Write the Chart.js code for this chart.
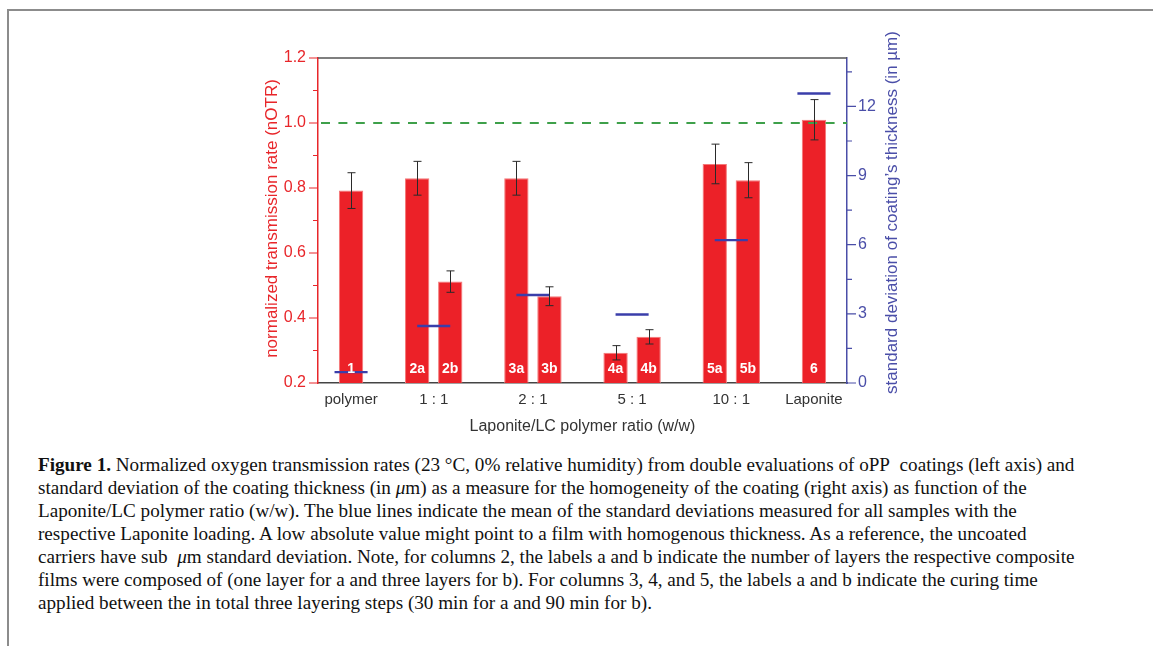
<!DOCTYPE html>
<html>
<head>
<meta charset="utf-8">
<script src="https://cdn.jsdelivr.net/npm/chart.js@4.4.0/dist/chart.umd.min.js"></script>
<style>
  html, body { margin: 0; padding: 0; background: #fff; }
  body { width: 1153px; height: 646px; position: relative; overflow: hidden; }
  #frame { position: absolute; left: 7px; top: 9px; width: 1160px; height: 660px; border-left: 2px solid #8c8c8c; border-top: 2px solid #8c8c8c; }
  #chartBox { position: absolute; left: 0; top: 0; width: 1153px; height: 450px; }
  #caption { position: absolute; left: 38px; top: 453px; font-family: 'Liberation Serif', serif; font-size: 17px; line-height: 23px; color: #111; white-space: nowrap; }
  #caption div { height: 23px; }
</style>
</head>
<body>
<div id="frame"></div>
<div id="chartBox"><canvas id="oxChart"></canvas></div>
<div id="caption">
  <div><span id="capLine1"><b>Figure 1.</b> Normalized oxygen transmission rates (23 °C, 0% relative humidity) from double evaluations of oPP&nbsp; coatings (left axis) and</span></div>
  <div>standard deviation of the coating thickness (in <i>μ</i>m) as a measure for the homogeneity of the coating (right axis) as function of the</div>
  <div>Laponite/LC polymer ratio (w/w). The blue lines indicate the mean of the standard deviations measured for all samples with the</div>
  <div>respective Laponite loading. A low absolute value might point to a film with homogenous thickness. As a reference, the uncoated</div>
  <div>carriers have sub&nbsp; <i>μ</i>m standard deviation. Note, for columns 2, the labels a and b indicate the number of layers the respective composite</div>
  <div>films were composed of (one layer for a and three layers for b). For columns 3, 4, and 5, the labels a and b indicate the curing time</div>
  <div>applied between the in total three layering steps (30&nbsp;min for a and 90&nbsp;min for b).</div>
</div>
<script>
// group labels on the x axis and where they sit (in bar slots)
const groupLabels = ['polymer', '1 : 1', '2 : 1', '5 : 1', '10 : 1', 'Laponite'];
const groupPos = [0, 2.5, 5.5, 8.5, 11.5, 14];

// single bars
const barLabels = ['1', '2a', '2b', '3a', '3b', '4a', '4b', '5a', '5b', '6'];
const barPos = [0, 2, 3, 5, 6, 8, 9, 11, 12, 14];
const nOTR = [0.792, 0.830, 0.512, 0.830, 0.467, 0.293, 0.342, 0.874, 0.824, 1.010];
const nOTRErr = [0.055, 0.052, 0.033, 0.052, 0.029, 0.022, 0.022, 0.061, 0.054, 0.062];

// mean standard deviation of thickness per group (right axis, µm)
const sdThickness = [0.47, 2.47, 3.82, 2.97, 6.2, 12.56];
const sdFrom = [-0.5, 2, 5, 8, 11, 13.5];
const sdTo = [0.5, 3, 6, 9, 12, 14.5];

const referenceLevel = 1.0;
const leftTicks = [0.2, 0.4, 0.6, 0.8, 1.0, 1.2];
const leftMinor = [0.3, 0.5, 0.7, 0.9, 1.1];
const rightTicks = [0, 3, 6, 9, 12];
const rightMinor = [1.5, 4.5, 7.5, 10.5, 13.5];

const RED = '#e8262a';
const BLUE = '#4a4ea8';
const LINE_BLUE = '#3a3eaa';

Chart.defaults.font.family = "'Liberation Sans', Arial, sans-serif";

const extras = {
  id: 'extras',
  afterDatasetsDraw(chart) {
    const { ctx, scales } = chart;
    const x = scales.x, y = scales.y;
    ctx.save();
    // error bars
    ctx.strokeStyle = '#2a2a2a';
    ctx.lineWidth = 1;
    barPos.forEach((p, i) => {
      const px = Math.round(x.getPixelForValue(p)) + 0.5;
      const top = y.getPixelForValue(nOTR[i] + nOTRErr[i]);
      const bot = y.getPixelForValue(nOTR[i] - nOTRErr[i]);
      ctx.beginPath();
      ctx.moveTo(px, top); ctx.lineTo(px, bot);
      ctx.moveTo(px - 4, top); ctx.lineTo(px + 4, top);
      ctx.moveTo(px - 4, bot); ctx.lineTo(px + 4, bot);
      ctx.stroke();
    });
    // bar labels
    ctx.fillStyle = '#fff';
    ctx.font = "bold 14px 'Liberation Sans', Arial, sans-serif";
    ctx.textAlign = 'center';
    ctx.textBaseline = 'middle';
    barPos.forEach((p, i) => {
      ctx.fillText(barLabels[i], x.getPixelForValue(p), chart.chartArea.bottom - 14);
    });
    ctx.restore();
  },
  afterDraw(chart) {
    const { ctx, chartArea: a, scales } = chart;
    ctx.save();
    // top frame of the plot
    ctx.strokeStyle = '#555';
    ctx.lineWidth = 1.5;
    ctx.beginPath();
    ctx.moveTo(a.left, a.top); ctx.lineTo(a.right, a.top);
    ctx.stroke();
    // left ticks
    ctx.strokeStyle = RED;
    ctx.lineWidth = 1.2;
    ctx.beginPath();
    leftTicks.forEach(v => { const py = scales.y.getPixelForValue(v); ctx.moveTo(a.left - 9, py); ctx.lineTo(a.left, py); });
    leftMinor.forEach(v => { const py = scales.y.getPixelForValue(v); ctx.moveTo(a.left - 5, py); ctx.lineTo(a.left, py); });
    ctx.stroke();
    // right ticks
    ctx.strokeStyle = BLUE;
    ctx.beginPath();
    rightTicks.forEach(v => { const py = scales.y2.getPixelForValue(v); ctx.moveTo(a.right, py); ctx.lineTo(a.right + 9, py); });
    rightMinor.forEach(v => { const py = scales.y2.getPixelForValue(v); ctx.moveTo(a.right, py); ctx.lineTo(a.right + 5, py); });
    ctx.stroke();
    // axis titles
    const midY = (a.top + a.bottom) / 2;
    ctx.font = "17px 'Liberation Sans', Arial, sans-serif";
    ctx.textAlign = 'center';
    ctx.textBaseline = 'middle';
    ctx.fillStyle = RED;
    ctx.save();
    ctx.translate(a.left - 46, midY - 2);
    ctx.rotate(-Math.PI / 2);
    ctx.fillText('normalized transmission rate (nOTR)', 0, 0);
    ctx.restore();
    ctx.fillStyle = BLUE;
    ctx.save();
    ctx.translate(a.right + 45, midY - 8);
    ctx.rotate(-Math.PI / 2);
    ctx.fillText('standard deviation of coating\u2019s thickness (in \u00b5m)', 0, 0);
    ctx.restore();
    ctx.font = "16px 'Liberation Sans', Arial, sans-serif";
    ctx.fillStyle = '#333';
    ctx.fillText('Laponite/LC polymer ratio (w/w)', (a.left + a.right) / 2, a.bottom + 44);
    ctx.restore();
  }
};

const datasets = [
  {
    type: 'bar',
    data: barPos.map((p, i) => ({ x: p, y: nOTR[i] })),
    backgroundColor: '#ec2128',
    borderColor: '#f47878',
    borderWidth: 1,
    barPercentage: 0.92,
    base: 0.2,
    yAxisID: 'y',
    order: 3
  },
  {
    type: 'line',
    data: [{ x: -1, y: referenceLevel }, { x: 15, y: referenceLevel }],
    borderColor: '#3ea04a',
    borderWidth: 2.2,
    borderDash: [9, 8.4],
    borderDashOffset: -3,
    pointRadius: 0,
    yAxisID: 'y',
    order: 2
  }
].concat(sdThickness.map((v, i) => ({
  type: 'line',
  data: [{ x: sdFrom[i], y: v }, { x: sdTo[i], y: v }],
  borderColor: LINE_BLUE,
  borderWidth: 2.4,
  pointRadius: 0,
  yAxisID: 'y2',
  order: 1
})));

new Chart(document.getElementById('oxChart'), {
  type: 'bar',
  data: { datasets },
  options: {
    responsive: true,
    maintainAspectRatio: false,
    animation: false,
    events: [],
    layout: { padding: { left: 240, right: 246, top: 58, bottom: 0 } },
    plugins: { legend: { display: false }, tooltip: { enabled: false } },
    scales: {
      x: {
        type: 'linear',
        min: -1,
        max: 15,
        offset: false,
        grid: { display: false, drawTicks: false, offset: false },
        border: { display: true, color: '#444', width: 1.5 },
        afterBuildTicks: s => { s.ticks = groupPos.map(v => ({ value: v })); },
        afterFit: s => { s.height = 67; },
        ticks: {
          autoSkip: false,
          maxRotation: 0,
          padding: 8,
          color: '#333',
          font: { size: 15 },
          callback: (v, i) => groupLabels[i]
        }
      },
      y: {
        position: 'left',
        min: 0.2,
        max: 1.2,
        grid: { display: false, drawTicks: false },
        border: { display: true, color: RED, width: 1.5 },
        afterBuildTicks: s => { s.ticks = leftTicks.map(v => ({ value: v })); },
        afterFit: s => { s.width = 78; },
        ticks: { padding: 12, color: RED, font: { size: 16 }, callback: v => v.toFixed(1) }
      },
      y2: {
        position: 'right',
        min: 0,
        max: 14.1,
        grid: { display: false, drawTicks: false },
        border: { display: true, color: BLUE, width: 1.5 },
        afterBuildTicks: s => { s.ticks = rightTicks.map(v => ({ value: v })); },
        afterFit: s => { s.width = 60; },
        ticks: { padding: 11, color: BLUE, font: { size: 16 } }
      }
    }
  },
  plugins: [extras]
});

// fit the caption so its first line spans the same width as the figure text
const cap = document.getElementById('caption');
const w1 = document.getElementById('capLine1').getBoundingClientRect().width;
cap.style.fontSize = (17 * 1037 / w1).toFixed(2) + 'px';
</script>
</body>
</html>
